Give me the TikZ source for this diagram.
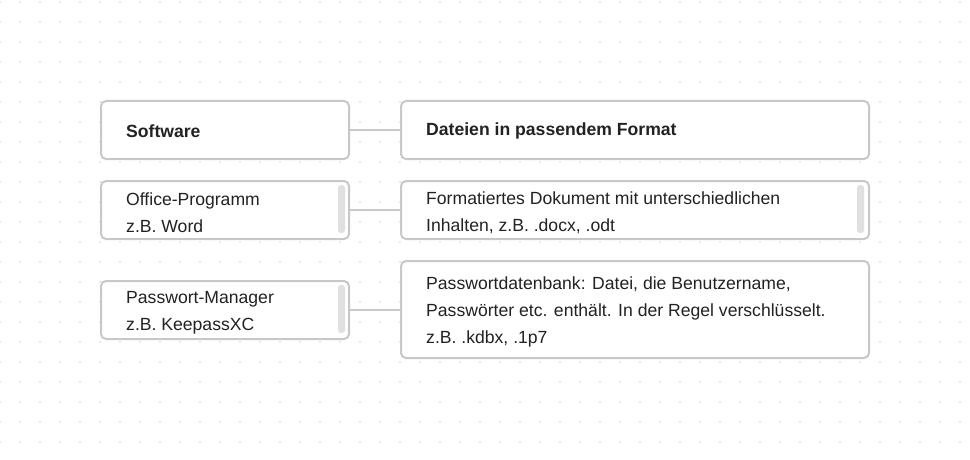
\documentclass[tikz,border=0pt]{standalone}
\usepackage{fontspec}
\setmainfont{Liberation Sans}
\definecolor{bord}{HTML}{C8C8C8}
\definecolor{txt}{HTML}{222222}
\definecolor{dotc}{HTML}{D8D8D8}
\definecolor{bar}{HTML}{E0E0E0}
\tikzset{
  box/.style={draw=bord, line width=2pt, rounded corners=5pt, fill=white},
  lab/.style={anchor=west, text=txt, font=\fontsize{17.6}{27}\selectfont, align=left, inner sep=0pt},
  conn/.style={draw=bord, line width=2.2pt},
  sbar/.style={fill=bar, rounded corners=3pt, draw=none}
}
\begin{document}
\begin{tikzpicture}[x=1pt,y=-1pt]
\useasboundingbox (0,0) rectangle (970,460);
\fill[white] (0,0) rectangle (970,460);
\foreach \i in {0,...,48}{\foreach \j in {0,...,22}{\fill[dotc] (\i*20,\j*20+2) circle (0.8);}}
% boxes
\path[box] (101,101) rectangle (349,159); \node (s) at (225,130) {};
\path[box] (401,101) rectangle (869,159); \node (d) at (635,130) {};
\path[box] (101,181) rectangle (349,239); \node (o) at (225,210) {};
\path[box] (401,181) rectangle (869,239); \node (f) at (635,210) {};
\path[box] (101,281) rectangle (349,339); \node (p) at (225,310) {};
\path[box] (401,261) rectangle (869,358); \node (k) at (635,310) {};
\coordinate (sR) at (350,130); \coordinate (dL) at (400,130);
\coordinate (oR) at (350,210); \coordinate (fL) at (400,210);
\coordinate (pR) at (350,310); \coordinate (kL) at (400,310);
\draw[conn] (sR) -- (dL);
\draw[conn] (oR) -- (fL);
\draw[conn] (pR) -- (kL);
% scroll bars
\path[sbar] (338,185) rectangle (345,233);
\path[sbar] (857,185) rectangle (864,233);
\path[sbar] (338,285) rectangle (345,333);
% texts
\node[lab, font=\fontsize{17.6}{27}\selectfont\bfseries] (t1) at (126,131) {Software};
\node[lab, font=\fontsize{17.6}{27}\selectfont\bfseries] (t2) at (426,131) {Dateien in passendem Format};
\node[lab] (t3) at (126,213) {Office-Programm\\z.B. Word};
\node[lab] (t4) at (426,213) {Formatiertes Dokument mit unterschiedlichen\\Inhalten, z.B. .docx, .odt};
\node[lab] (t5) at (126,313) {Passwort-Manager\\z.B. KeepassXC};
\node[lab] (t6) at (426,312) {Passwortdatenbank: Datei, die Benutzername,\\Passwörter etc. enthält. In der Regel verschlüsselt.\\z.B. .kdbx, .1p7};
\end{tikzpicture}
\end{document}
